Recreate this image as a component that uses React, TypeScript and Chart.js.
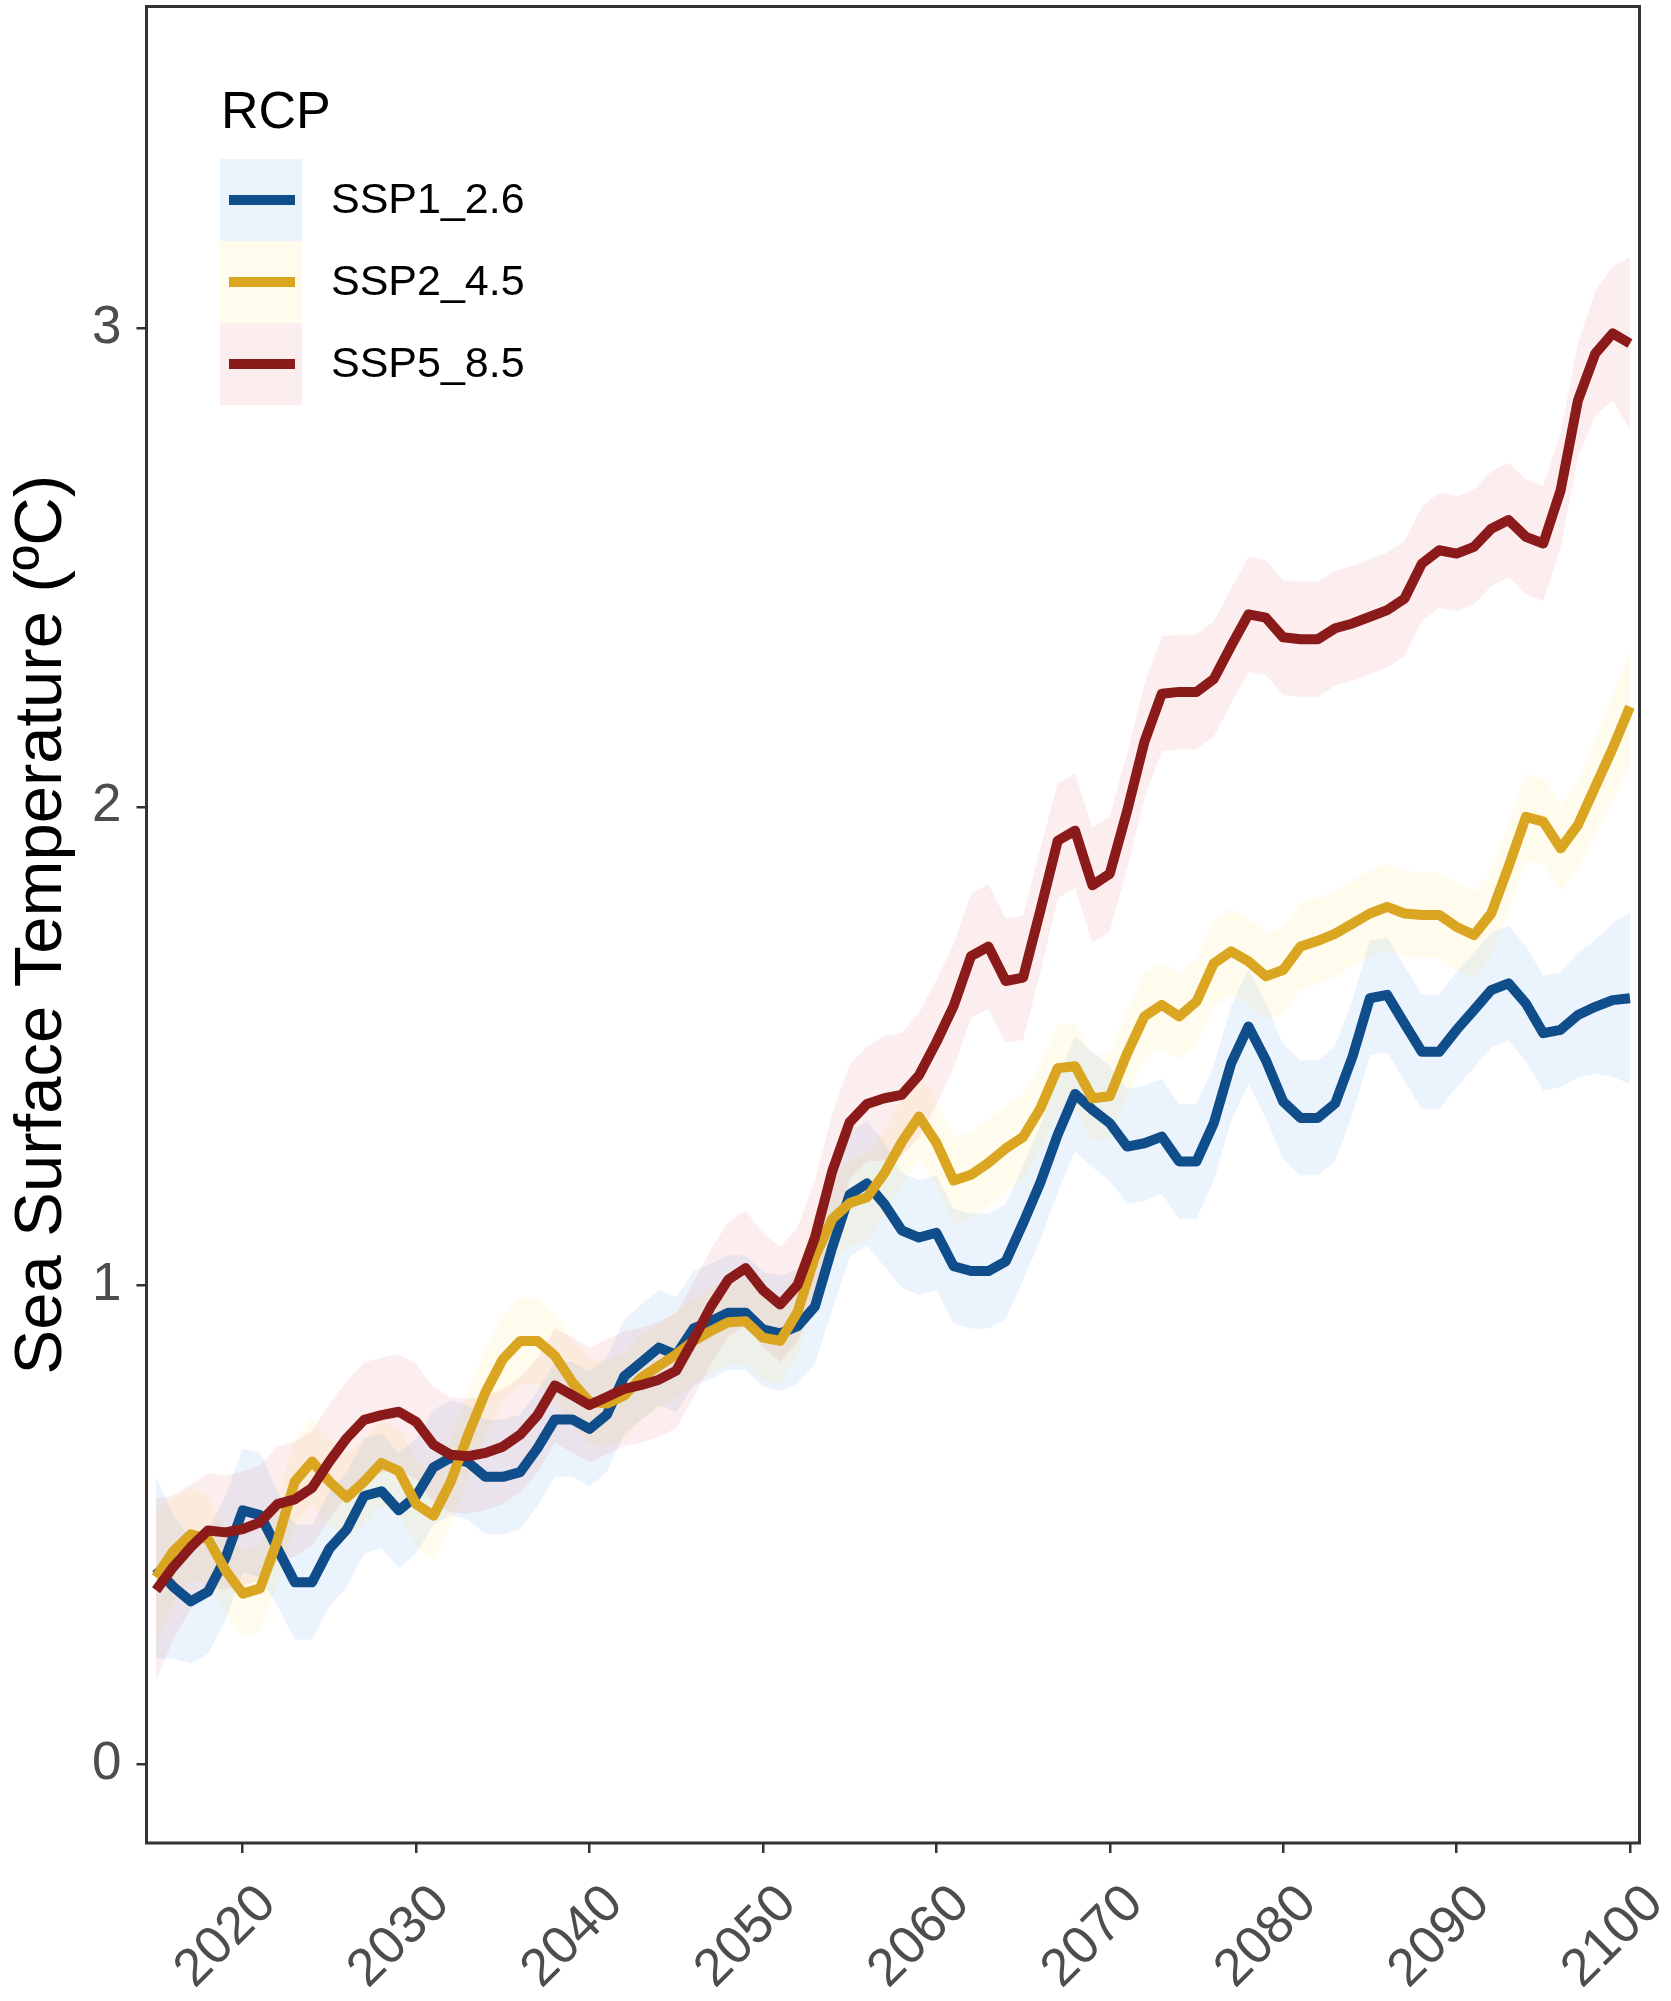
import React, { useEffect, useRef } from 'react';
import { Chart, registerables } from 'chart.js';

Chart.register(...registerables);

const years = [
  2015, 2016, 2017, 2018, 2019, 2020, 2021, 2022, 2023, 2024,
  2025, 2026, 2027, 2028, 2029, 2030, 2031, 2032, 2033, 2034,
  2035, 2036, 2037, 2038, 2039, 2040, 2041, 2042, 2043, 2044,
  2045, 2046, 2047, 2048, 2049, 2050, 2051, 2052, 2053, 2054,
  2055, 2056, 2057, 2058, 2059, 2060, 2061, 2062, 2063, 2064,
  2065, 2066, 2067, 2068, 2069, 2070, 2071, 2072, 2073, 2074,
  2075, 2076, 2077, 2078, 2079, 2080, 2081, 2082, 2083, 2084,
  2085, 2086, 2087, 2088, 2089, 2090, 2091, 2092, 2093, 2094,
  2095, 2096, 2097, 2098, 2099, 2100,
];

const ssp126 = [
  0.41, 0.37, 0.34, 0.36, 0.43, 0.53, 0.52, 0.45, 0.38, 0.38,
  0.45, 0.49, 0.56, 0.57, 0.53, 0.56, 0.62, 0.64, 0.63, 0.60,
  0.60, 0.61, 0.66, 0.72, 0.72, 0.70, 0.73, 0.81, 0.84, 0.87,
  0.855, 0.91, 0.925, 0.943, 0.943, 0.908, 0.90, 0.915, 0.956, 1.08,
  1.19, 1.213, 1.17, 1.115, 1.10, 1.11, 1.04, 1.03, 1.03, 1.05,
  1.13, 1.215, 1.315, 1.40, 1.367, 1.339, 1.29, 1.297, 1.311, 1.259,
  1.259, 1.339, 1.464, 1.541, 1.471, 1.384, 1.35, 1.35, 1.38, 1.478,
  1.60, 1.607, 1.547, 1.488, 1.488, 1.534, 1.575, 1.617, 1.631, 1.589,
  1.527, 1.534, 1.565, 1.582, 1.596, 1.60,
];

const ssp245 = [
  0.39, 0.445, 0.48, 0.47, 0.405, 0.356, 0.367, 0.467, 0.59, 0.632,
  0.59, 0.557, 0.59, 0.629, 0.612, 0.543, 0.519, 0.59, 0.688, 0.777,
  0.846, 0.884, 0.884, 0.853, 0.798, 0.757, 0.753, 0.77, 0.808, 0.832,
  0.856, 0.884, 0.905, 0.923, 0.925, 0.891, 0.884, 0.945, 1.06, 1.139,
  1.172, 1.184, 1.234, 1.299, 1.353, 1.298, 1.219, 1.231, 1.256, 1.286,
  1.31, 1.37, 1.454, 1.458, 1.391, 1.395, 1.485, 1.562, 1.586, 1.562,
  1.593, 1.673, 1.698, 1.677, 1.646, 1.659, 1.708, 1.72, 1.735, 1.756,
  1.777, 1.791, 1.777, 1.774, 1.774, 1.749, 1.732, 1.777, 1.875, 1.979,
  1.969, 1.913, 1.962, 2.042, 2.122, 2.209,
];

const ssp585 = [
  0.363, 0.412, 0.453, 0.488, 0.484, 0.491, 0.505, 0.543, 0.553, 0.577,
  0.632, 0.681, 0.719, 0.729, 0.736, 0.715, 0.667, 0.646, 0.643, 0.65,
  0.663, 0.688, 0.729, 0.791, 0.771, 0.75, 0.767, 0.784, 0.792, 0.803,
  0.822, 0.887, 0.956, 1.012, 1.036, 0.99, 0.96, 1.001, 1.10, 1.239,
  1.341, 1.379, 1.391, 1.398, 1.439, 1.508, 1.584, 1.688, 1.708, 1.636,
  1.643, 1.784, 1.929, 1.95, 1.836, 1.86, 1.991, 2.136, 2.236, 2.24,
  2.24, 2.267, 2.336, 2.402, 2.395, 2.354, 2.35, 2.35, 2.373, 2.383,
  2.397, 2.411, 2.435, 2.508, 2.536, 2.529, 2.543, 2.581, 2.599, 2.564,
  2.55, 2.661, 2.849, 2.947, 2.989, 2.968,
];

// half-width of the shaded uncertainty band around each series
const spread126 = [
  0.19, 0.15, 0.13, 0.13, 0.13, 0.13, 0.13, 0.12, 0.12, 0.12,
  0.12, 0.12, 0.12, 0.12, 0.12, 0.12, 0.12, 0.12, 0.12, 0.12,
  0.12, 0.12, 0.12, 0.12, 0.12, 0.12, 0.12, 0.12, 0.12, 0.12,
  0.12, 0.12, 0.12, 0.12, 0.12, 0.12, 0.12, 0.12, 0.12, 0.13,
  0.13, 0.13, 0.13, 0.12, 0.12, 0.12, 0.12, 0.12, 0.12, 0.12,
  0.12, 0.12, 0.12, 0.12, 0.12, 0.12, 0.12, 0.12, 0.12, 0.12,
  0.12, 0.12, 0.12, 0.12, 0.12, 0.12, 0.12, 0.12, 0.12, 0.12,
  0.12, 0.12, 0.12, 0.12, 0.12, 0.12, 0.12, 0.12, 0.12, 0.12,
  0.12, 0.12, 0.13, 0.14, 0.16, 0.18,
];

const spread245 = [
  0.14, 0.11, 0.10, 0.09, 0.09, 0.09, 0.09, 0.09, 0.09, 0.09,
  0.09, 0.09, 0.09, 0.09, 0.09, 0.09, 0.09, 0.09, 0.09, 0.09,
  0.09, 0.09, 0.09, 0.09, 0.09, 0.09, 0.09, 0.09, 0.09, 0.09,
  0.09, 0.09, 0.09, 0.09, 0.09, 0.09, 0.09, 0.09, 0.09, 0.09,
  0.09, 0.09, 0.09, 0.09, 0.09, 0.09, 0.09, 0.09, 0.09, 0.09,
  0.09, 0.09, 0.09, 0.09, 0.09, 0.09, 0.09, 0.09, 0.09, 0.09,
  0.09, 0.09, 0.09, 0.09, 0.09, 0.09, 0.09, 0.09, 0.09, 0.09,
  0.09, 0.09, 0.09, 0.09, 0.09, 0.09, 0.09, 0.09, 0.09, 0.09,
  0.09, 0.09, 0.09, 0.10, 0.11, 0.12,
];

const spread585 = [
  0.19, 0.15, 0.13, 0.12, 0.12, 0.12, 0.12, 0.12, 0.12, 0.12,
  0.12, 0.12, 0.12, 0.12, 0.12, 0.12, 0.12, 0.12, 0.12, 0.12,
  0.12, 0.12, 0.12, 0.12, 0.12, 0.12, 0.12, 0.12, 0.12, 0.12,
  0.12, 0.12, 0.12, 0.12, 0.12, 0.12, 0.12, 0.12, 0.12, 0.12,
  0.12, 0.12, 0.13, 0.13, 0.13, 0.13, 0.13, 0.13, 0.13, 0.13,
  0.13, 0.13, 0.12, 0.12, 0.12, 0.12, 0.12, 0.12, 0.12, 0.12,
  0.12, 0.12, 0.12, 0.12, 0.12, 0.12, 0.12, 0.12, 0.12, 0.12,
  0.12, 0.12, 0.12, 0.12, 0.12, 0.12, 0.12, 0.12, 0.12, 0.12,
  0.12, 0.12, 0.12, 0.13, 0.14, 0.18,
];

const seriesNames = ['SSP1_2.6', 'SSP2_4.5', 'SSP5_8.5'];
const legendTitle = 'RCP';
const yAxisTitle = 'Sea Surface Temperature (\u00baC)';
const xTickValues = [2020, 2030, 2040, 2050, 2060, 2070, 2080, 2090, 2100];
const yTickValues = [0, 1, 2, 3];

const FONT = "'Liberation Sans', Arial, Helvetica, sans-serif";
const lineColors = ['#104E8B', '#DAA520', '#8B1A1A'];
const bandColors = ['rgba(60,140,230,0.10)', 'rgba(255,225,50,0.09)', 'rgba(220,40,40,0.08)'];

const seriesValues = [ssp126, ssp245, ssp585];
const seriesSpread = [spread126, spread245, spread585];

const panelBorder = {
  id: 'panelBorder',
  afterDatasetsDraw(chart: any) {
    const { ctx, chartArea } = chart;
    const { left, top, right, bottom } = chartArea;
    ctx.save();
    ctx.strokeStyle = '#333333';
    ctx.lineWidth = 3;
    ctx.strokeRect(left, top, right - left, bottom - top);
    ctx.restore();
  },
};

const keyLegend = {
  id: 'keyLegend',
  afterDraw(chart: any) {
    const ctx = chart.ctx;
    ctx.save();
    ctx.fillStyle = '#000000';
    ctx.textAlign = 'left';
    ctx.textBaseline = 'alphabetic';
    ctx.font = `52px ${FONT}`;
    ctx.fillText(legendTitle, 221, 128);
    const keyLeft = 220;
    const keySize = 82;
    const firstTop = 159;
    seriesNames.forEach((name, i) => {
      const top = firstTop + i * keySize;
      ctx.fillStyle = bandColors[i];
      ctx.fillRect(keyLeft, top, keySize, keySize);
      ctx.strokeStyle = lineColors[i];
      ctx.lineWidth = 10;
      ctx.lineCap = 'butt';
      ctx.beginPath();
      ctx.moveTo(keyLeft + 9, top + keySize / 2);
      ctx.lineTo(keyLeft + 75, top + keySize / 2);
      ctx.stroke();
      ctx.fillStyle = '#000000';
      ctx.font = `43px ${FONT}`;
      ctx.textBaseline = 'middle';
      ctx.fillText(name, 331, top + keySize / 2 + 1);
    });
    ctx.restore();
  },
};

function zeroPadding(s: any) {
  s.paddingLeft = 0;
  s.paddingRight = 0;
  s.paddingTop = 0;
  s.paddingBottom = 0;
}

export default function App() {
  const canvasRef = useRef<HTMLCanvasElement | null>(null);

  useEffect(() => {
    document.body.style.margin = '0';
    const canvas = canvasRef.current;
    if (!canvas) return;

    const datasets: any[] = [];
    seriesValues.forEach((vals, i) => {
      const spread = seriesSpread[i];
      const lowerIndex = datasets.length;
      datasets.push({
        label: seriesNames[i] + ' lower',
        data: years.map((x, j) => ({ x, y: vals[j] - spread[j] })),
        borderWidth: 0,
        borderColor: 'rgba(0,0,0,0)',
        pointRadius: 0,
        fill: false,
        tension: 0,
        order: 20 - i * 2,
      });
      datasets.push({
        label: seriesNames[i] + ' upper',
        data: years.map((x, j) => ({ x, y: vals[j] + spread[j] })),
        borderWidth: 0,
        borderColor: 'rgba(0,0,0,0)',
        backgroundColor: bandColors[i],
        pointRadius: 0,
        fill: lowerIndex,
        tension: 0,
        order: 20 - i * 2,
      });
    });
    seriesValues.forEach((vals, i) => {
      datasets.push({
        label: seriesNames[i],
        data: years.map((x, j) => ({ x, y: vals[j] })),
        borderColor: lineColors[i],
        borderWidth: 10,
        borderJoinStyle: 'round',
        borderCapStyle: 'butt',
        pointRadius: 0,
        fill: false,
        tension: 0,
        order: 5 - i,
      });
    });

    const gridOpts = {
      drawOnChartArea: false,
      drawTicks: true,
      tickLength: 10,
      color: '#333333',
      lineWidth: 2.5,
    };

    const chart = new Chart(canvas, {
      type: 'line',
      data: { datasets },
      options: {
        animation: false,
        responsive: true,
        maintainAspectRatio: false,
        layout: { padding: { left: 0, right: 31.5, top: 6.5, bottom: 0 } },
        plugins: {
          legend: { display: false },
          tooltip: { enabled: false },
        },
        scales: {
          x: {
            type: 'linear',
            min: 2014.45,
            max: 2100.55,
            afterBuildTicks: (s: any) => {
              s.ticks = xTickValues.map((v) => ({ value: v }));
            },
            afterFit: (s: any) => {
              s.height = 158;
              zeroPadding(s);
            },
            grid: gridOpts,
            border: { display: false },
            ticks: {
              autoSkip: false,
              minRotation: 45,
              maxRotation: 45,
              padding: 20,
              labelOffset: 25,
              color: '#4D4D4D',
              font: { family: FONT, size: 53 },
              callback: (v: any) => String(v),
            },
          },
          y: {
            type: 'linear',
            min: -0.165,
            max: 3.672,
            afterBuildTicks: (s: any) => {
              s.ticks = yTickValues.map((v) => ({ value: v }));
            },
            afterFit: (s: any) => {
              s.width = 146.5;
              zeroPadding(s);
            },
            grid: gridOpts,
            border: { display: false },
            ticks: {
              padding: 15,
              color: '#4D4D4D',
              font: { family: FONT, size: 53 },
              callback: (v: any) => String(v),
            },
            title: {
              display: true,
              text: yAxisTitle,
              color: '#000000',
              font: { family: FONT, size: 67 },
              padding: { top: 2, bottom: 0 },
            },
          },
        },
      },
      plugins: [panelBorder, keyLegend],
    } as any);

    return () => {
      chart.destroy();
    };
  }, []);

  return (
    <div style={{ position: 'absolute', left: 0, top: 0, width: 1671, height: 2001, background: '#ffffff' }}>
      <canvas ref={canvasRef} />
    </div>
  );
}
